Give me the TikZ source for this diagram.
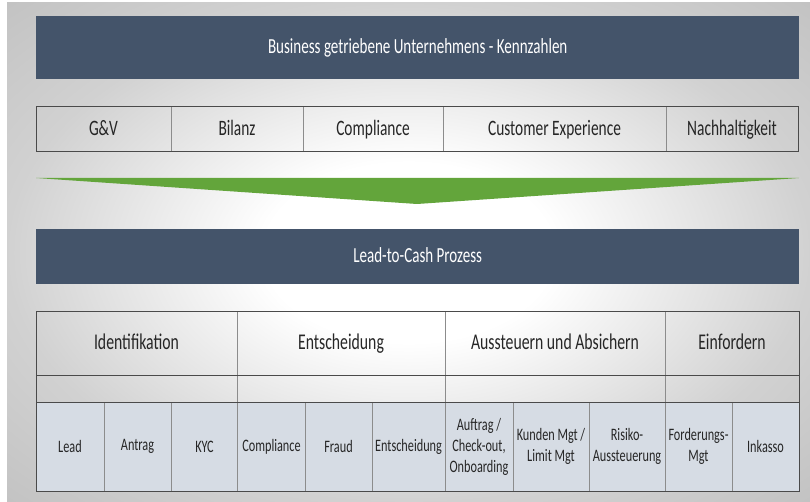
\documentclass[tikz,border=0pt]{standalone}
\usepackage{fontspec}
\setmainfont{Carlito}
\newfontfamily\cond[FakeStretch=0.7]{Carlito}
\definecolor{banner}{HTML}{44546A}
\definecolor{arrowgreen}{HTML}{63A53B}
\definecolor{cellfill}{HTML}{D6DCE4}
\definecolor{darkline}{HTML}{4A4A4A}
\definecolor{midline}{HTML}{8C8C8C}
\definecolor{rim}{HTML}{C2C2C2}
\pgfdeclareradialshading{bgshade}{\pgfpoint{0bp}{0bp}}{color(0bp)=(white); color(9bp)=(white); color(25bp)=(rim!75!white); color(36bp)=(rim); color(50bp)=(rim)}
\tikzset{
  onelinetext/.style={text height=15pt, text depth=3pt},
  bannerbox/.style={fill=banner, text=white, font=\cond\fontsize{21.5}{24}\selectfont, inner sep=0pt, onelinetext},
  kpitext/.style={font=\cond\fontsize{22}{25}\selectfont, text=black!85, inner sep=0pt, onelinetext},
  headtext/.style={font=\cond\fontsize{22.5}{26}\selectfont, text=black!85, inner sep=0pt, onelinetext},
  subtext/.style={font=\cond\fontsize{17.5}{21}\selectfont, text=black!85, inner sep=0pt, align=center},
  outerline/.style={draw=darkline, line width=1pt},
  divline/.style={draw=midline, line width=0.9pt},
}
\begin{document}
\begin{tikzpicture}[x=1pt,y=-1pt]
\useasboundingbox (0,0) rectangle (810,502);
\fill[white] (0,0) rectangle (810,502);
\path[shading=bgshade] (7,3) rectangle (810,502);
% top banner
\node[bannerbox, minimum width=763pt, minimum height=63pt, anchor=north west] (top) at (36,16) {Business getriebene Unternehmens - Kennzahlen};
% KPI row
\coordinate (k0) at (36,107);
\coordinate (k5) at (798,152);
\node[kpitext] (gv) at (103.5,129.5) {G\&V};
\node[kpitext] (bil) at (237,129.5) {Bilanz};
\node[kpitext] (comp) at (373,129.5) {Compliance};
\node[kpitext] (cx) at (554.5,129.5) {Customer Experience};
\node[kpitext] (nach) at (732,129.5) {Nachhaltigkeit};
\foreach \x in {171,303,443,666} \draw[divline] (\x,107) -- (\x,152);
\draw[outerline] (k0) rectangle (k5);
% green arrow
\coordinate (al) at (36,178);
\coordinate (ar) at (799,178);
\coordinate (at) at (417,204);
\fill[arrowgreen] (al) -- (ar) -- (at) -- cycle;
% second banner
\node[bannerbox, minimum width=763pt, minimum height=55pt, anchor=north west] (l2c) at (36,229) {Lead-to-Cash Prozess};
% table bottom row fill
\fill[cellfill] (36,402) rectangle (799,491);
% header texts
\node[headtext] (h1) at (136.5,343) {Identifikation};
\node[headtext] (h2) at (341,343) {Entscheidung};
\node[headtext] (h3) at (555,343) {Aussteuern und Absichern};
\node[headtext] (h4) at (732,343) {Einfordern};
% sub texts
\node[subtext] (s1) at (70,446.5) {Lead};
\node[subtext] (s2) at (137.5,446.5) {Antrag};
\node[subtext] (s3) at (204.5,446.5) {KYC};
\node[subtext] (s4) at (271.5,446.5) {Compliance};
\node[subtext] (s5) at (338.5,446.5) {Fraud};
\node[subtext] (s6) at (408.5,446.5) {Entscheidung};
\node[subtext] (s7) at (479,446.5) {Auftrag /\\Check-out,\\Onboarding};
\node[subtext] (s8) at (551,446.5) {Kunden Mgt /\\Limit Mgt};
\node[subtext] (s9) at (627,446.5) {Risiko-\\Aussteuerung};
\node[subtext] (s10) at (698.5,446.5) {Forderungs-\\Mgt};
\node[subtext] (s11) at (765.5,446.5) {Inkasso};
% table lines
\foreach \x in {104,171,305,372,513,589,732} \draw[divline] (\x,402) -- (\x,491);
\foreach \x in {237,445,665} \draw[divline] (\x,311) -- (\x,491);
\draw[outerline] (36,375) -- (799,375);
\draw[outerline] (36,402) -- (799,402);
\draw[outerline] (36,311) rectangle (799,491);
\end{tikzpicture}
\end{document}
